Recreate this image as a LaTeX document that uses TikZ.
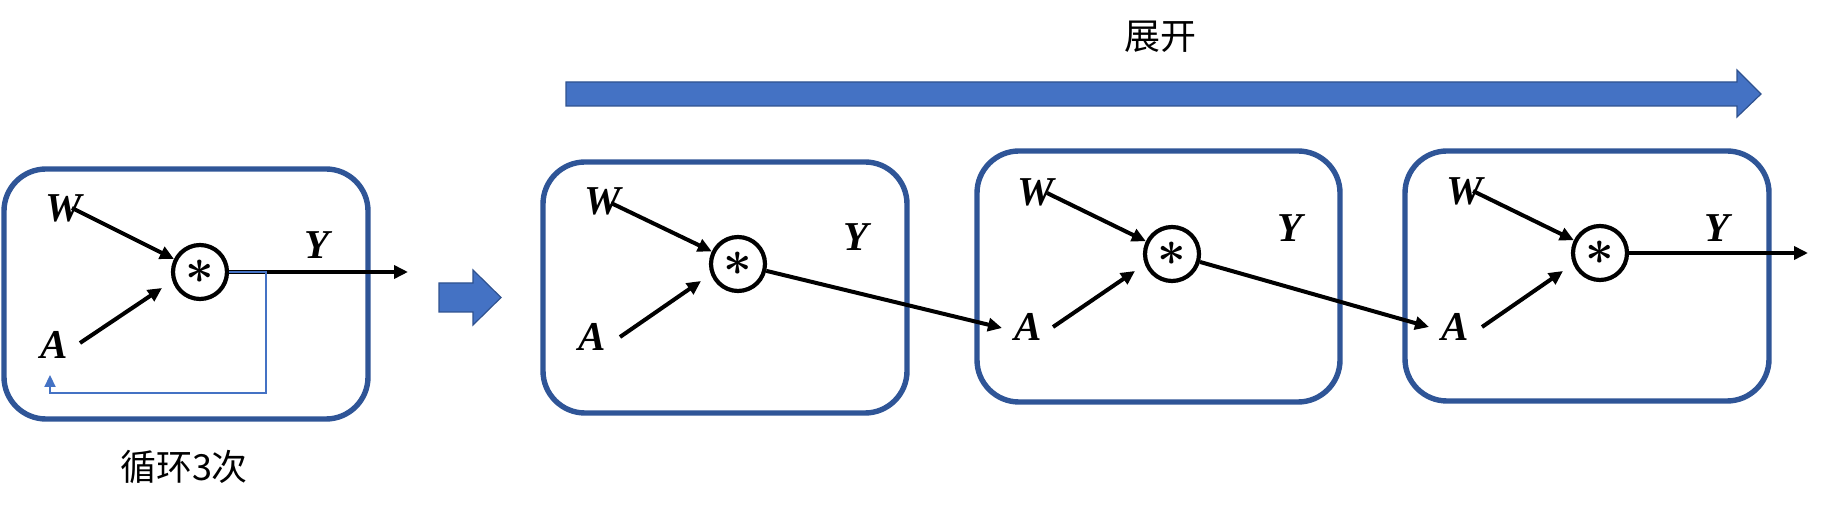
\documentclass[tikz,border=0pt]{standalone}
\usepackage{fontspec}
\setmainfont{Liberation Serif}
\newfontfamily\cjk{Noto Sans CJK SC}
\usetikzlibrary{arrows.meta}
\definecolor{boxblue}{HTML}{2F5597}
\definecolor{fillblue}{HTML}{4472C4}
\definecolor{edgeblue}{HTML}{2F528F}
\tikzset{
  cellbox/.style={draw=boxblue,line width=2.7pt,rounded corners=21pt},
  var/.style={inner sep=0pt,font=\fontsize{20.5pt}{24pt}\selectfont\bfseries\itshape},
  mult/.style={circle,draw=black,line width=2.1pt,minimum size=27pt,inner sep=0pt,font=\fontsize{30pt}{30pt}\selectfont\boldmath},
  conn/.style={draw=black,line width=2pt,-{Triangle[length=7pt,width=6.5pt]}},
  loopline/.style={draw=fillblue,line width=1.1pt,-{Triangle[length=6pt,width=5.5pt]}},
  blockarrow/.style={fill=fillblue,draw=edgeblue,line width=0.6pt},
  cjklabel/.style={inner sep=0pt,font=\fontsize{18pt}{22pt}\selectfont\cjk}
}
\newcommand{\astmark}{\raisebox{-1.5pt}{$\ast$}}
\begin{document}
\begin{tikzpicture}[x=0.5pt,y=-0.5pt]
\useasboundingbox (0,0) rectangle (1824,512);

% ---------- box 1 (loop) ----------
\draw[cellbox] (4,169) rectangle (368,419);
\node[var] (W1) at (64,208) {W};
\node[var] (A1) at (54,345) {A};
\node[var] (Y1) at (317,245) {Y};
\node[mult] (c1) at (200,272) {\astmark};
\coordinate (w1s) at (72,208);
\coordinate (a1s) at (80,343);
\coordinate (a1e) at (162,288);
\coordinate (y1e) at (408,272);
\coordinate (l1) at (266,272);
\coordinate (l2) at (266,393);
\coordinate (l3) at (50,393);
\coordinate (l4) at (50,375);
\draw[conn] (w1s) -- (c1);
\draw[conn] (a1s) -- (a1e);
\draw[conn] (c1.east) -- (y1e);
\draw[loopline] (c1.east) -- (l1) -- (l2) -- (l3) -- (l4);
\node[cjklabel] (loopTxt) at (184,467) {循环3次};

% small block arrow
\draw[blockarrow] (439,283) -- (473,283) -- (473,270) -- (501,297.5) -- (473,325) -- (473,312) -- (439,312) -- cycle;

% big block arrow
\draw[blockarrow] (566,82) -- (1737,82) -- (1737,70) -- (1761,94) -- (1737,117) -- (1737,106) -- (566,106) -- cycle;
\node[cjklabel] (unrollTxt) at (1160,37) {展开};

% ---------- box 2 ----------
\draw[cellbox] (543,162) rectangle (907,413);
\node[var] (W2) at (603,201) {W};
\node[var] (A2) at (592,337) {A};
\node[var] (Y2) at (856,237) {Y};
\node[mult] (c2) at (738,264) {\astmark};
\coordinate (w2s) at (611,203);
\coordinate (a2s) at (620,337);
\coordinate (a2e) at (701,281);
\draw[conn] (w2s) -- (c2);
\draw[conn] (a2s) -- (a2e);

% ---------- box 3 ----------
\draw[cellbox] (977,151) rectangle (1340,402);
\node[var] (W3) at (1036,192) {W};
\node[var] (A3) at (1028,327) {A};
\node[var] (Y3) at (1290,228) {Y};
\node[mult] (c3) at (1172,254) {\astmark};
\coordinate (w3s) at (1047,193);
\coordinate (a3s) at (1053,327);
\coordinate (a3e) at (1135,271);
\coordinate (a3in) at (1002,328);
\draw[conn] (w3s) -- (c3);
\draw[conn] (a3s) -- (a3e);
\draw[conn] (c2) -- (a3in);

% ---------- box 4 ----------
\draw[cellbox] (1405,151) rectangle (1769,401);
\node[var] (W4) at (1465,191) {W};
\node[var] (A4) at (1455,327) {A};
\node[var] (Y4) at (1717,228) {Y};
\node[mult] (c4) at (1600,253) {\astmark};
\coordinate (w4s) at (1473,191);
\coordinate (a4s) at (1482,327);
\coordinate (a4e) at (1563,271);
\coordinate (a4in) at (1429,327);
\coordinate (y4e) at (1808,253);
\draw[conn] (w4s) -- (c4);
\draw[conn] (a4s) -- (a4e);
\draw[conn] (c3) -- (a4in);
\draw[conn] (c4) -- (y4e);
\end{tikzpicture}
\end{document}
